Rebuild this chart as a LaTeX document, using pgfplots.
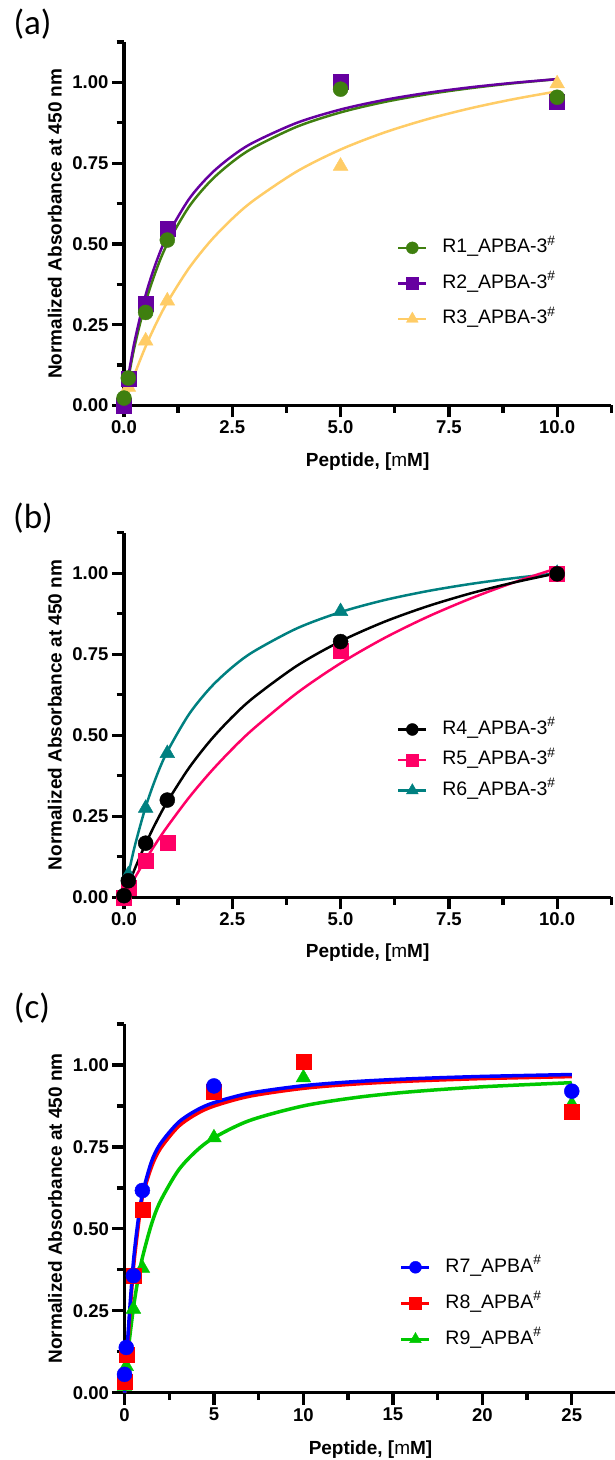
\documentclass[border=0pt]{standalone}
\usepackage{fontspec}
\setmainfont{Liberation Sans}
\newfontfamily\calibri{Carlito}
\usepackage{pgfplots}
\pgfplotsset{compat=1.18}

\definecolor{cOne}{HTML}{3F7F0F}
\definecolor{cTwo}{HTML}{6600A0}
\definecolor{cThree}{HTML}{FFCC66}
\definecolor{cFour}{HTML}{000000}
\definecolor{cFive}{HTML}{FF0066}
\definecolor{cSix}{HTML}{008080}
\definecolor{cSeven}{HTML}{0000FF}
\definecolor{cEight}{HTML}{FF0000}
\definecolor{cNine}{HTML}{00C800}

\pgfplotsset{
  panel/.style={
    scale only axis, anchor=south west, clip=false,
    axis lines=left, axis line style={line width=3.3pt,-},
    tick align=outside, major tick length=12pt, minor tick length=7.5pt,
    tick style={black, line width=3.3pt},
    ymin=0, ymax=1.125,
    ytick={0,0.25,0.5,0.75,1}, minor ytick={0.125,0.375,0.625,0.875,1.125},
    /pgf/number format/assume math mode=true,
    yticklabel style={/pgf/number format/fixed, /pgf/number format/fixed zerofill,
      /pgf/number format/precision=2},
    tick label style={font=\bfseries\fontsize{18.5}{18.5}\selectfont},
    ylabel={Normalized Absorbance at 450 nm},
    xlabel={Peptide, [{\mdseries m}M]},
    label style={font=\bfseries\fontsize{19}{19}\selectfont},
    reverse legend,
    legend style={draw=none, fill=none, inner sep=0pt,
      font=\fontsize{19.5}{19.5}\selectfont,
      nodes={inner sep=0pt, text height=14pt, text depth=4pt}},
    legend cell align=left,
    legend image code/.code={
      \draw[##1, sharp plot, mark repeat=2, mark phase=2, line width=2.5pt,
        every mark/.append style={scale=0.8}]
        plot coordinates {(0pt,0pt)(14pt,0pt)(28pt,0pt)};
      \path[draw=none, fill=none] (0pt,0pt) -- (44pt,0pt);
    },
  },
  shortx/.style={
    width=487.3pt, xmin=0, xmax=11.25,
    xtick={0,2.5,5,7.5,10}, minor xtick={1.25,3.75,6.25,8.75,11.25},
    xticklabel style={/pgf/number format/fixed, /pgf/number format/fixed zerofill,
      /pgf/number format/precision=1},
  },
  dots/.style={only marks, mark=*, mark size=7.5pt, color=#1,
    mark options={fill=#1, draw=#1, line width=0.4pt, solid}},
  boxes/.style={only marks, mark=square*, mark size=7.5pt, color=#1,
    mark options={fill=#1, draw=#1, line width=0.4pt, solid}},
  tris/.style={only marks, mark=triangle*, mark size=8.5pt, color=#1,
    mark options={fill=#1, draw=#1, line width=0.4pt, solid}},
  fit/.style={color=#1, line width=2.5pt, smooth, no marks, forget plot},
}

\begin{document}
\begin{tikzpicture}
\useasboundingbox (0,0) rectangle (614pt,1460pt);

% panel labels
\node at (32.5pt,1436.3pt) {\calibri\fontsize{35}{35}\selectfont (a)};
\node at (33pt,942pt) {\calibri\fontsize{35}{35}\selectfont (b)};
\node at (32pt,452pt) {\calibri\fontsize{35}{35}\selectfont (c)};

% ---------- (a)
\begin{axis}[panel, shortx, at={(124pt,1054.5pt)}, height=363.5pt,
  ylabel style={at={(axis description cs:-0.142,0.5)}, anchor=center},
  xlabel style={at={(axis description cs:0.5,-0.1546)}, anchor=center},
  legend style={at={(axis description cs:0.56,0.336)}, anchor=west,
    row sep=17.5pt}]
\addplot[fit=cOne] coordinates {(0,0) (0.1,0.0827) (0.25,0.1864) (0.5,0.3203) (0.75,0.4212) (1,0.5) (1.5,0.615) (2,0.695) (2.5,0.7537) (3,0.7987) (4,0.8632) (5,0.9071) (6,0.939) (7,0.9632) (8,0.9821) (9,0.9974) (10,1.0099)};
\addplot[fit=cThree] coordinates {(0,0) (0.1,0.0414) (0.25,0.0986) (0.5,0.1828) (0.75,0.2557) (1,0.3193) (1.5,0.425) (2,0.5093) (2.5,0.5781) (3,0.6354) (4,0.7251) (5,0.7922) (6,0.8443) (7,0.8859) (8,0.9199) (9,0.9482) (10,0.9722)};
\addplot[fit=cTwo] coordinates {(0,0) (0.1,0.0905) (0.25,0.2019) (0.5,0.3423) (0.75,0.4457) (1,0.525) (1.5,0.6386) (2,0.716) (2.5,0.7722) (3,0.8149) (4,0.8753) (5,0.916) (6,0.9454) (7,0.9675) (8,0.9848) (9,0.9987) (10,1.0101)};
\addplot[tris=cThree] coordinates {(0,0.005) (0.1,0.057) (0.5,0.20) (1,0.324) (5,0.741) (10,0.996)};
\addlegendentry{R3\_APBA-3\textsuperscript{\#}}
\addplot[boxes=cTwo] coordinates {(0,0) (0.1,0.082) (0.5,0.314) (1,0.547) (5,1.003) (10,0.941)};
\addlegendentry{R2\_APBA-3\textsuperscript{\#}}
\addplot[dots=cOne] coordinates {(0,0.023) (0.1,0.085) (0.5,0.288) (1,0.512) (5,0.979) (10,0.954)};
\addlegendentry{R1\_APBA-3\textsuperscript{\#}}
\end{axis}

% ---------- (b)
\begin{axis}[panel, shortx, at={(124pt,562.7pt)}, height=364.6pt,
  ylabel style={at={(axis description cs:-0.142,0.5)}, anchor=center},
  xlabel style={at={(axis description cs:0.5,-0.152)}, anchor=center},
  legend style={at={(axis description cs:0.56,0.3766)}, anchor=west,
    row sep=12.5pt}]
\addplot[fit=cSix] coordinates {(0,0) (0.1,0.0691) (0.25,0.1586) (0.5,0.2789) (0.75,0.3734) (1,0.4495) (1.5,0.5646) (2,0.6474) (2.5,0.71) (3,0.7589) (4,0.8303) (5,0.88) (6,0.9166) (7,0.9446) (8,0.9668) (9,0.9848) (10,0.9997)};
\addplot[fit=cFive] coordinates {(0,0) (0.1,0.0246) (0.25,0.0603) (0.5,0.1165) (0.75,0.169) (1,0.2181) (1.5,0.3076) (2,0.3869) (2.5,0.4577) (3,0.5213) (4,0.631) (5,0.7221) (6,0.7991) (7,0.8649) (8,0.9218) (9,0.9716) (10,1.0154)};
\addplot[fit=cFour] coordinates {(0,0) (0.1,0.0366) (0.25,0.088) (0.5,0.1653) (0.75,0.2338) (1,0.2948) (1.5,0.399) (2,0.4847) (2.5,0.5564) (3,0.6172) (4,0.715) (5,0.79) (6,0.8495) (7,0.8977) (8,0.9377) (9,0.9713) (10,1.0)};
\addplot[tris=cSix] coordinates {(0,0.01) (0.1,0.07) (0.5,0.275) (1,0.444) (5,0.882) (10,1.0)};
\addlegendentry{R6\_APBA-3\textsuperscript{\#}}
\addplot[boxes=cFive] coordinates {(0,0) (0.1,0.03) (0.5,0.112) (1,0.169) (5,0.76) (10,1.0)};
\addlegendentry{R5\_APBA-3\textsuperscript{\#}}
\addplot[dots=cFour] coordinates {(0,0.005) (0.1,0.051) (0.5,0.167) (1,0.30) (5,0.789) (10,0.998)};
\addlegendentry{R4\_APBA-3\textsuperscript{\#}}
\end{axis}

% ---------- (c)
\begin{axis}[panel, at={(124.5pt,67.3pt)}, width=492pt, height=368.7pt,
  xmin=0, xmax=27.5, xtick={0,5,10,15,20,25},
  minor xtick={2.5,7.5,12.5,17.5,22.5,27.5},
  ylabel style={at={(axis description cs:-0.1413,0.5)}, anchor=center},
  xlabel style={at={(axis description cs:0.5,-0.1554)}, anchor=center},
  legend style={at={(axis description cs:0.56,0.2425)}, anchor=west,
    row sep=18pt},
  fit/.append style={line width=3.5pt}]
\addplot[fit=cNine] coordinates {(0,0) (0.1,0.0655) (0.25,0.1491) (0.5,0.2595) (0.75,0.3445) (1,0.412) (1.5,0.5125) (2,0.5836) (3,0.6777) (4,0.737) (5,0.778) (7,0.8307) (10,0.8751) (13,0.9011) (16,0.9181) (20,0.9334) (25,0.946)};
\addplot[fit=cEight] coordinates {(0,0) (0.1,0.085) (0.25,0.2) (0.5,0.38) (0.75,0.5) (1,0.5964) (1.5,0.6875) (2,0.7444) (3,0.8115) (4,0.8498) (5,0.8746) (7,0.9047) (10,0.9287) (13,0.9422) (16,0.9508) (20,0.9584) (25,0.9645)};
\addplot[fit=cSeven] coordinates {(0,0) (0.1,0.09) (0.25,0.22) (0.5,0.40) (0.75,0.52) (1,0.605) (1.5,0.7034) (2,0.759) (3,0.8241) (4,0.8611) (5,0.8849) (7,0.9138) (10,0.9367) (13,0.9496) (16,0.9578) (20,0.965) (25,0.9708)};
\addplot[tris=cNine] coordinates {(0,0.02) (0.1,0.08) (0.5,0.255) (1,0.38) (5,0.778) (10,0.961) (25,0.88)};
\addlegendentry{R9\_APBA\textsuperscript{\#}}
\addplot[boxes=cEight] coordinates {(0,0.034) (0.1,0.115) (0.5,0.357) (1,0.557) (5,0.917) (10,1.01) (25,0.856)};
\addlegendentry{R8\_APBA\textsuperscript{\#}}
\addplot[dots=cSeven] coordinates {(0,0.056) (0.1,0.138) (0.5,0.357) (1,0.617) (5,0.936) (25,0.92)};
\addlegendentry{R7\_APBA\textsuperscript{\#}}
\end{axis}
\end{tikzpicture}
\end{document}
